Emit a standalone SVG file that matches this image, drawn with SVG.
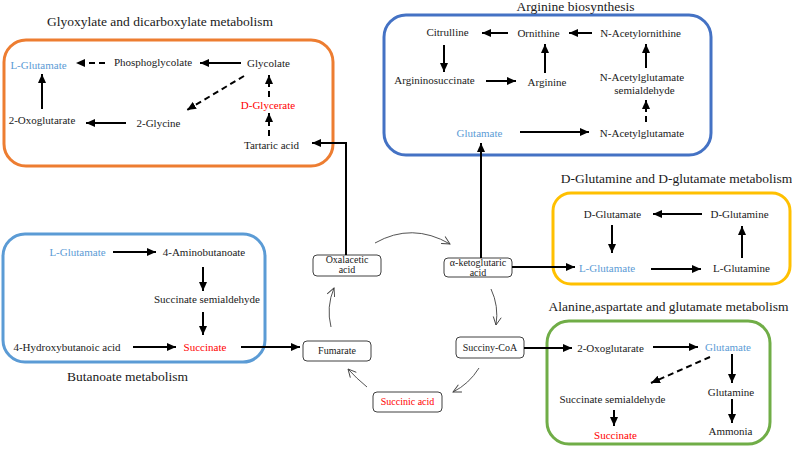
<svg xmlns="http://www.w3.org/2000/svg" width="792" height="449" viewBox="0 0 792 449" font-family="'Liberation Serif', 'Times New Roman', 'DejaVu Serif', serif">
<defs>
<marker id="ah" markerUnits="userSpaceOnUse" markerWidth="9" markerHeight="8" refX="9" refY="4" orient="auto"><path d="M0,0 L9,4 L0,8 Z" fill="#000"/></marker>
<marker id="oh" markerUnits="userSpaceOnUse" markerWidth="10" markerHeight="10" refX="9" refY="5" orient="auto"><path d="M1,1 L9,5 L1,9" fill="none" stroke="#404040" stroke-width="0.9"/></marker>
</defs>
<style>
text{font-family:'Liberation Serif','Times New Roman','DejaVu Serif',serif;font-size:11px;fill:#1a1a1a;text-anchor:middle}
.t{font-size:13.5px}
.s{font-size:10px}
.b{fill:#5B9BD5}
.r{fill:#FF0000}
.box{fill:none;stroke-width:3}
.n{fill:#fff;stroke:#404040;stroke-width:1}
.a{stroke:#000;stroke-width:2;fill:none;marker-end:url(#ah)}
.d{stroke:#000;stroke-width:2;fill:none;stroke-dasharray:6,4;marker-end:url(#ah)}
.c{stroke:#404040;stroke-width:0.9;fill:none;marker-end:url(#oh)}
</style>

<g id="glyoxylate">
<rect class="box" x="4" y="40" width="329" height="126" rx="22" stroke="#ED7D31"/>
<text class="t" x="160" y="26">Glyoxylate and dicarboxylate metabolism</text>
<text class="b" x="38.5" y="69">L-Glutamate</text>
<text x="153" y="66">Phosphoglycolate</text>
<text x="268.5" y="67">Glycolate</text>
<text class="r" x="268" y="109">D-Glycerate</text>
<text x="42" y="124">2-Oxoglutarate</text>
<text x="158.5" y="127">2-Glycine</text>
<text x="271.5" y="149">Tartaric acid</text>
</g>

<g id="arginine">
<rect class="box" x="384" y="15" width="327" height="140" rx="22" stroke="#4472C4"/>
<text class="t" x="575.5" y="11">Arginine biosynthesis</text>
<text x="447.5" y="36">Citrulline</text>
<text x="538.5" y="37">Ornithine</text>
<text x="640.5" y="37">N-Acetylornithine</text>
<text x="434.5" y="84">Argininosuccinate</text>
<text x="547" y="86">Arginine</text>
<text x="642" y="81">N-Acetylglutamate</text>
<text x="644.5" y="94">semialdehyde</text>
<text class="b" x="479.5" y="137">Glutamate</text>
<text x="642" y="137">N-Acetylglutamate</text>
</g>

<g id="butanoate">
<rect class="box" x="3" y="234" width="262" height="128" rx="22" stroke="#5B9BD5"/>
<text class="t" x="127.5" y="381">Butanoate metabolism</text>
<text class="b" x="77.5" y="256">L-Glutamate</text>
<text x="204" y="256">4-Aminobutanoate</text>
<text x="207" y="303">Succinate semialdehyde</text>
<text x="67" y="351">4-Hydroxybutanoic acid</text>
<text class="r" x="205" y="351">Succinate</text>
</g>

<g id="dglutamine">
<rect class="box" x="553" y="193" width="237" height="91" rx="18" stroke="#FFC000"/>
<text class="t" x="676.5" y="183">D-Glutamine and D-glutamate metabolism</text>
<text x="612.5" y="218">D-Glutamate</text>
<text x="739.5" y="218">D-Glutamine</text>
<text class="b" x="607" y="272">L-Glutamate</text>
<text x="741.5" y="272">L-Glutamine</text>
</g>

<g id="alanine">
<rect class="box" x="547" y="321" width="223" height="123" rx="22" stroke="#70AD47"/>
<text class="t" x="668.5" y="311">Alanine,aspartate and glutamate metabolism</text>
<text x="610.5" y="352">2-Oxoglutarate</text>
<text class="b" x="728" y="351">Glutamate</text>
<text x="612.5" y="403">Succinate semialdehyde</text>
<text x="731" y="396">Glutamine</text>
<text class="r" x="615.5" y="439">Succinate</text>
<text x="730.5" y="435">Ammonia</text>
</g>

<g id="oxalacetic">
<rect class="n" x="313" y="255" width="68" height="21" rx="4"/>
<text class="s" x="347" y="263">Oxalacetic</text>
<text class="s" x="347" y="273">acid</text>
</g>
<g id="ketoglutaric">
<rect class="n" x="444" y="258" width="68" height="19" rx="4"/>
<text class="s" x="478" y="266">α-ketoglutaric</text>
<text class="s" x="478" y="276">acid</text>
</g>
<g id="fumarate">
<rect class="n" x="303" y="341" width="68" height="20" rx="4"/>
<text class="s" x="337" y="354">Fumarate</text>
</g>
<g id="succinyl">
<rect class="n" x="456" y="337" width="68" height="21" rx="4"/>
<text class="s" x="490" y="351">Succiny-CoA</text>
</g>
<g id="succinic">
<rect class="n" x="373" y="392" width="69" height="20" rx="4"/>
<text class="s r" x="407.5" y="405">Succinic acid</text>
</g>

<g id="connectors">
<line class="d" x1="105" y1="63" x2="76" y2="63"/>
<line class="a" x1="241" y1="63" x2="200" y2="63"/>
<line class="a" x1="42" y1="109" x2="42" y2="74"/>
<line class="d" x1="244" y1="76" x2="187" y2="110"/>
<line class="d" x1="269" y1="97" x2="269" y2="75"/>
<line class="d" x1="269" y1="136" x2="269" y2="113"/>
<line class="a" x1="126" y1="123" x2="86" y2="123"/>
<polyline class="a" points="346,255 346,143 312,143"/>
<line class="a" x1="508" y1="33" x2="482" y2="33"/>
<line class="a" x1="592" y1="33" x2="569" y2="33"/>
<line class="a" x1="444" y1="45" x2="444" y2="72"/>
<line class="a" x1="486" y1="81" x2="516" y2="81"/>
<line class="a" x1="545" y1="73" x2="545" y2="44"/>
<line class="a" x1="646" y1="68" x2="646" y2="44"/>
<line class="d" x1="646" y1="122" x2="646" y2="100"/>
<line class="a" x1="520" y1="132" x2="589" y2="132"/>
<line class="a" x1="481" y1="258" x2="481" y2="143"/>
<line class="a" x1="113" y1="252" x2="156" y2="252"/>
<line class="a" x1="203" y1="267" x2="203" y2="291"/>
<line class="a" x1="203" y1="312" x2="203" y2="335"/>
<line class="a" x1="133" y1="347" x2="176" y2="347"/>
<line class="a" x1="241" y1="347" x2="300" y2="347"/>
<line class="a" x1="512" y1="267" x2="575" y2="267"/>
<line class="a" x1="702" y1="214" x2="653" y2="214"/>
<line class="a" x1="612" y1="225" x2="612" y2="253"/>
<line class="a" x1="651" y1="269" x2="701" y2="269"/>
<line class="a" x1="742" y1="258" x2="742" y2="226"/>
<line class="a" x1="524" y1="348" x2="572" y2="348"/>
<line class="a" x1="653" y1="347" x2="698" y2="347"/>
<line class="d" x1="710" y1="357" x2="651" y2="383"/>
<line class="a" x1="732" y1="354" x2="732" y2="383"/>
<line class="a" x1="732" y1="399" x2="732" y2="423"/>
<line class="a" x1="614" y1="410" x2="614" y2="426"/>
<path class="c" d="M375,243 Q412,222 450,244"/>
<path class="c" d="M491,289 Q499,306 496,325"/>
<path class="c" d="M479,368 Q469,384 453,392"/>
<path class="c" d="M367,387 Q356,378 348,369"/>
<path class="c" d="M331,327 Q326,307 334,288"/>
</g>
</svg>
